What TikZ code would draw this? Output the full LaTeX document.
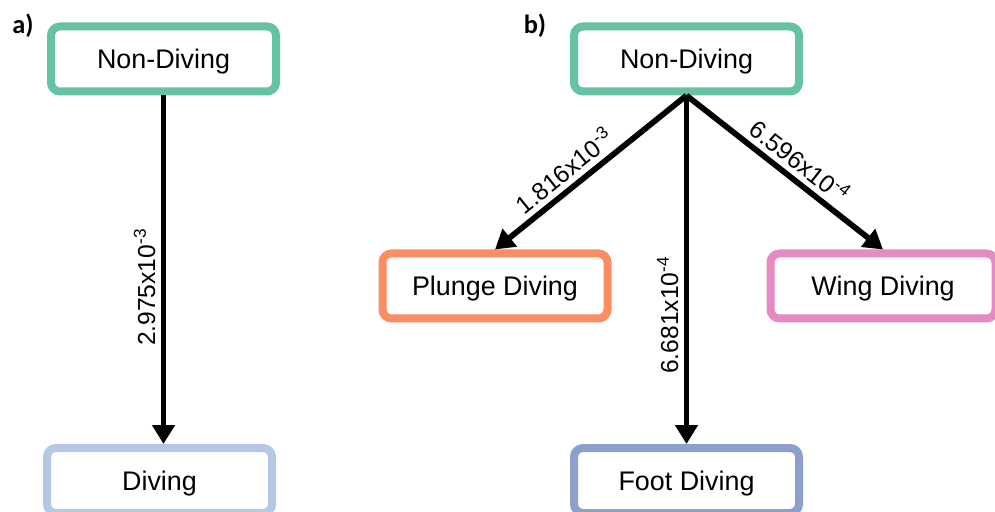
\documentclass[tikz,border=0pt]{standalone}
\usepackage{fontspec}
\setmainfont{Liberation Sans}
\newfontfamily\panelfont{Carlito}
\usetikzlibrary{arrows.meta, positioning}
\definecolor{nongreen}{HTML}{66C2A5}
\definecolor{diveblue}{HTML}{B4C7E7}
\definecolor{plungeorange}{HTML}{FC8D62}
\definecolor{wingpink}{HTML}{E78AC3}
\definecolor{footblue}{HTML}{8DA0CB}

\begin{document}
\begin{tikzpicture}[>={Triangle[length=0.38cm, width=0.44cm]},
  state/.style={draw, line width=0.16cm, rounded corners=0.18cm, fill=white,
    minimum width=4.5cm, minimum height=1.3cm, text depth=0pt,
    font=\fontsize{15.3}{18}\selectfont},
  rate/.style={font=\fontsize{14}{17}\selectfont, inner sep=3pt},
  link/.style={->, line width=0.115cm},
  panel/.style={font=\panelfont\bfseries\fontsize{15}{17}\selectfont}]
  \useasboundingbox (0,0) rectangle (19.9,10.22);
  % Panel a
  \node[panel] (labela) at (0.46,9.7) {a)};
  \node[state, draw=nongreen] (nda) at (3.27,9.04) {Non-Diving};
  \node[state, draw=diveblue] (da) at (3.19,0.61) {Diving};
  \draw[link] (nda.south) -- node[rate, rotate=90, anchor=south, pos=0.55] (ra) {2.975x10\textsuperscript{-3}} (nda.south |- da.north);
  % Panel b
  \node[panel] (labelb) at (10.7,9.7) {b)};
  \node[state, draw=nongreen] (ndb) at (13.73,9.04) {Non-Diving};
  \node[state, draw=plungeorange] (pd) at (9.9,4.5) {Plunge Diving};
  \node[state, draw=wingpink] (wd) at (17.66,4.5) {Wing Diving};
  \node[state, draw=footblue] (fd) at (13.73,0.61) {Foot Diving};
  \draw[link] (ndb.south) -- node[rate, sloped, above, pos=0.58] (rp) {1.816x10\textsuperscript{-3}} (pd.north);
  \draw[link] (ndb.south) -- node[rate, sloped, above, pos=0.52] (rw) {6.596x10\textsuperscript{-4}} (wd.north);
  \draw[link] (ndb.south) -- node[rate, rotate=90, anchor=south, pos=0.63] (rf) {6.681x10\textsuperscript{-4}} (fd.north);
\end{tikzpicture}
\end{document}
